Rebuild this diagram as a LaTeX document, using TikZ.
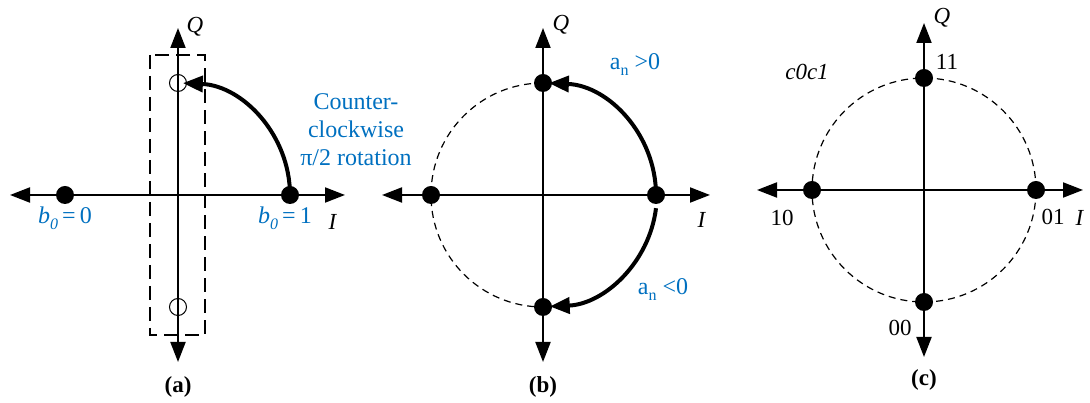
\documentclass[tikz,border=0pt]{standalone}
\usepackage{fontspec}
\setmainfont{Liberation Serif}
\usetikzlibrary{arrows.meta}
\definecolor{lblue}{RGB}{0,112,192}
\tikzset{
  axis/.style={line width=2pt,{Triangle[length=20pt,width=15pt]}-{Triangle[length=20pt,width=15pt]}},
  dot/.style={circle,fill=black,inner sep=0pt,minimum size=18pt},
  odot/.style={circle,draw=black,line width=1pt,fill=none,inner sep=0pt,minimum size=17pt},
  rot/.style={line width=4pt,-{Triangle[length=20pt,width=16pt]}},
  dcirc/.style={line width=1.2pt,dash pattern=on 7pt off 5pt},
  lbl/.style={font=\fontsize{23}{27}\selectfont,inner sep=0pt},
  blbl/.style={inner sep=0pt,font=\fontsize{24}{28}\selectfont,text=lblue},
  subcap/.style={font=\fontsize{23}{27}\selectfont\bfseries,inner sep=0pt},
}
\newcommand{\sbx}[1]{\raisebox{-0.25em}{\fontsize{16}{16}\selectfont #1}}
\begin{document}
\begin{tikzpicture}[x=1pt,y=1pt]
\useasboundingbox (0,0) rectangle (1090,403);
% ---------- panel (a)
\coordinate (aL) at (10,208); \coordinate (aR) at (345,208);
\coordinate (aT) at (178,375); \coordinate (aB) at (178,41);
\draw[axis] (aL) -- (aR);
\draw[axis] (aB) -- (aT);
\draw[line width=1.2pt,dash pattern=on 14pt off 7pt] (150,348) rectangle (205,68);
\node[dot] (a0) at (65,208) {};
\node[dot] (a1) at (290,208) {};
\node[odot] (aq1) at (178,320) {};
\node[odot] (aq2) at (178,96) {};
\draw[rot] (290,208) arc[start angle=0,end angle=87.5,radius=112];
\node[blbl] (b0l) at (65,185) {\textit{b}\sbx{\textit{0}}\,=\,0};
\node[blbl] (b1l) at (285,185) {\textit{b}\sbx{\textit{0}}\,=\,1};
\node[lbl] (aI) at (333,181) {\textit{I}};
\node[lbl] (aQ) at (195,376) {\textit{Q}};
\node[blbl,align=center] (ccw) at (356,273) {Counter-\\clockwise\\π/2 rotation};
\node[subcap] (capa) at (178,16) {(a)};
% ---------- panel (b)
\coordinate (bL) at (382,208); \coordinate (bR) at (710,208);
\coordinate (bT) at (543,375); \coordinate (bB) at (543,41);
\draw[dcirc] (543,320) arc[start angle=90,end angle=270,radius=112];
\draw[axis] (bL) -- (bR);
\draw[axis] (bB) -- (bT);
\node[dot] (bE) at (656,208) {};
\node[dot] (bW) at (431,208) {};
\node[dot] (bN) at (543,320) {};
\node[dot] (bS) at (543,96) {};
\draw[rot] (656,208) arc[start angle=0,end angle=87.5,radius=112];
\draw[rot] (bE.south) ++(0,-4) arc[start angle=-7,end angle=-87.5,radius=112];
\node[blbl] (ap) at (635,338) {a\sbx{n} \textgreater 0};
\node[blbl] (an) at (663,113) {a\sbx{n} \textless 0};
\node[lbl] (bI) at (702,183) {\textit{I}};
\node[lbl] (bQ) at (561,378) {\textit{Q}};
\node[subcap] (capb) at (543,16) {(b)};
% ---------- panel (c)
\coordinate (cL) at (757,213); \coordinate (cR) at (1083,213);
\coordinate (cT) at (924,380); \coordinate (cB) at (924,46);
\draw[dcirc] (924,213) circle[radius=112];
\draw[axis] (cL) -- (cR);
\draw[axis] (cB) -- (cT);
\node[dot] (cE) at (1036,213) {};
\node[dot] (cW) at (812,213) {};
\node[dot] (cN) at (924,325) {};
\node[dot] (cS) at (924,101) {};
\node[lbl] (cc) at (807,331) {\textit{c0c1}};
\node[lbl] (c11) at (947,341) {11};
\node[lbl] (c10) at (782,185) {10};
\node[lbl] (c01) at (1053,186) {01};
\node[lbl] (c00) at (900,75) {00};
\node[lbl] (cI) at (1080,185) {\textit{I}};
\node[lbl] (cQ) at (942,385) {\textit{Q}};
\node[subcap] (capc) at (924,23) {(c)};
\end{tikzpicture}
\end{document}
